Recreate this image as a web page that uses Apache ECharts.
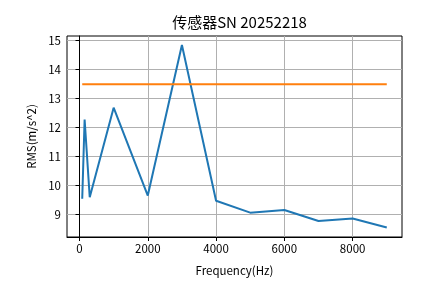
<!DOCTYPE html>
<html>
<head>
<meta charset="utf-8">
<script src="https://cdn.jsdelivr.net/npm/echarts@6/dist/echarts.min.js"></script>
<style>html,body{margin:0;padding:0;background:#fff}#c{width:446px;height:296px}</style>
</head>
<body>
<div id="c"></div>
<script>
var titleText = '传感器SN 20252218';
var xName = 'Frequency(Hz)';
var yName = 'RMS(m/s^2)';
var freqs = [80, 150, 300, 1000, 2000, 3000, 4000, 5000, 6000, 7000, 8000, 9000];
var rms = [9.55, 12.28, 9.6, 12.69, 9.66, 14.85, 9.48, 9.07, 9.16, 8.78, 8.87, 8.56];
var thresholdX = [80, 9000];
var thresholdY = [13.5, 13.5];
var xTicks = [0, 2000, 4000, 6000, 8000];
var yTicks = [9, 10, 11, 12, 13, 14, 15];
var xRange = [-366, 9446];
var yRange = [8.23, 15.16];

var font = '"Noto Sans CJK SC", "DejaVu Sans", sans-serif';
var chart = echarts.init(document.getElementById('c'), null, {renderer: 'canvas'});
chart.setOption({
  animation: false,
  backgroundColor: '#fff',
  title: {
    text: titleText, left: 234.5, top: 10, textAlign: 'center',
    textStyle: {fontFamily: font, fontSize: 15, fontWeight: 'normal', color: '#000'}
  },
  grid: {left: 67, right: 44, top: 36, bottom: 59, show: true, borderColor: '#000', borderWidth: 1, backgroundColor: 'transparent'},
  xAxis: {
    type: 'value', min: xRange[0], max: xRange[1],
    name: xName, nameLocation: 'middle', nameGap: 28,
    nameTextStyle: {fontFamily: font, fontSize: 11.5, color: '#000'},
    axisLine: {show: true, lineStyle: {color: '#000', width: 1}},
    axisTick: {show: true, inside: false, length: 4, customValues: xTicks, lineStyle: {color: '#000'}},
    axisLabel: {customValues: xTicks, formatter: function (v) { return String(v); }, fontFamily: font, fontSize: 11.5, color: '#000', margin: 6},
    splitLine: {show: true, lineStyle: {color: '#b0b0b0', width: 1}}
  },
  yAxis: {
    type: 'value', min: yRange[0], max: yRange[1],
    name: yName, nameLocation: 'middle', nameGap: 30, nameRotate: 90,
    nameTextStyle: {fontFamily: font, fontSize: 11.5, color: '#000'},
    axisLine: {show: true, lineStyle: {color: '#000', width: 1}},
    axisTick: {show: true, inside: false, length: 4, customValues: yTicks, lineStyle: {color: '#000'}},
    axisLabel: {customValues: yTicks, formatter: function (v) { return String(v); }, fontFamily: font, fontSize: 11.5, color: '#000', margin: 6},
    splitLine: {show: true, lineStyle: {color: '#b0b0b0', width: 1}}
  },
  series: [
    {
      type: 'line', data: freqs.map(function (f, i) { return [f, rms[i]]; }),
      showSymbol: false, symbol: 'none', lineStyle: {color: '#1f77b4', width: 2}, z: 3
    },
    {
      type: 'line', data: thresholdX.map(function (f, i) { return [f, thresholdY[i]]; }),
      showSymbol: false, symbol: 'none', lineStyle: {color: '#ff7f0e', width: 2}, z: 3
    }
  ]
});
</script>
</body>
</html>
